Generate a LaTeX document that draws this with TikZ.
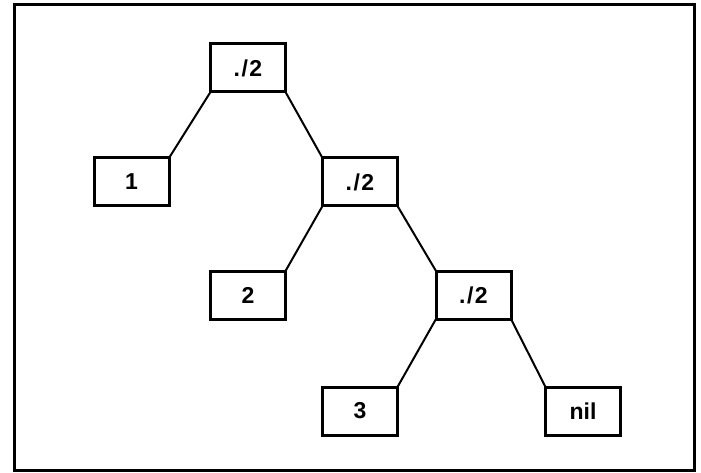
\documentclass[tikz,border=0pt]{standalone}
\usepackage{fontspec}
\setmainfont{Liberation Sans}
\begin{document}
\begin{tikzpicture}[
    x=1pt, y=-1pt,
    cell/.style={rectangle, draw, line width=3pt, minimum width=75pt, minimum height=48pt,
                 inner sep=0pt, outer sep=0pt, font=\fontsize{23}{26}\selectfont\bfseries},
    link/.style={line width=2pt}
]
\useasboundingbox (0,0) rectangle (701,473);
\draw[line width=3pt] (14,5) rectangle (694,470);

\node[cell] (top) at (248,68) {.\kern1.5pt/\kern1.5pt2};
\node[cell] (one) at (131.5,182) {1};
\node[cell] (mid) at (360,182) {.\kern1.5pt/\kern1.5pt2};
\node[cell] (two) at (248,295) {2};
\node[cell] (low) at (473.5,295) {.\kern1.5pt/\kern1.5pt2};
\node[cell] (three) at (360,411) {3};
\node[cell] (nil) at (583,411) {nil};

\draw[link] (top.south west) -- (one.north east);
\draw[link] (top.south east) -- (mid.north west);
\draw[link] (mid.south west) -- (two.north east);
\draw[link] (mid.south east) -- (low.north west);
\draw[link] (low.south west) -- (three.north east);
\draw[link] (low.south east) -- (nil.north west);
\end{tikzpicture}
\end{document}
